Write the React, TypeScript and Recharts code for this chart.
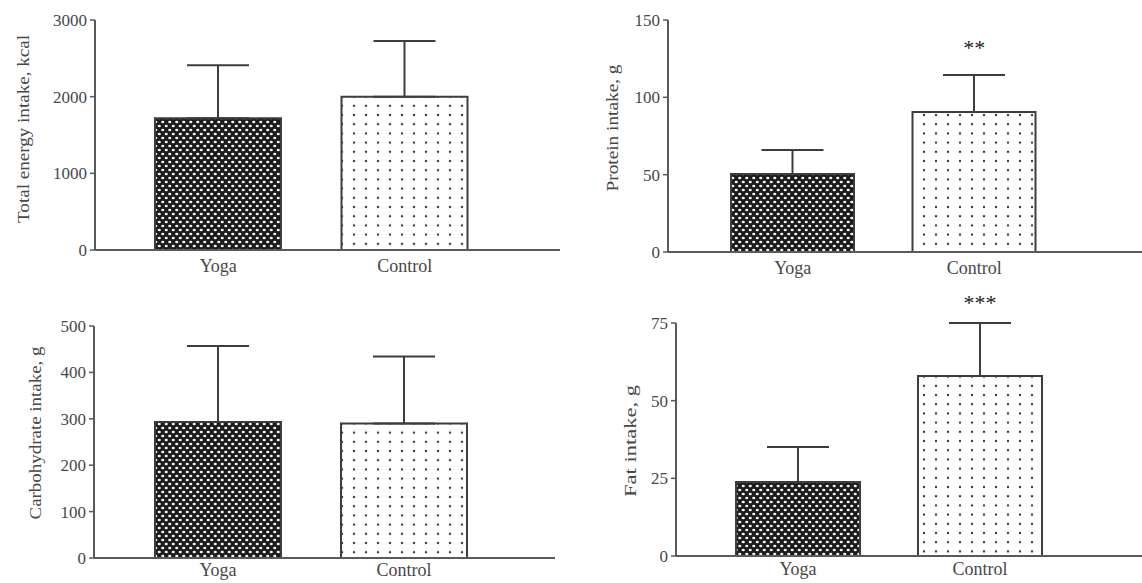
import { BarChart, Bar, XAxis, YAxis, ErrorBar, ReferenceDot, Cell, Label } from "recharts";

// groups on the x axis
const groups = ["Yoga", "Control"];

// means and upper SD
const energyMean = [1720, 2000];
const energySd = [690, 725];
const proteinMean = [50.4, 90.5];
const proteinSd = [15.5, 24];
const carbMean = [293, 290];
const carbSd = [164, 144];
const fatMean = [23.8, 57.9];
const fatSd = [11.3, 17.1];

const energyTicks = [0, 1000, 2000, 3000];
const proteinTicks = [0, 50, 100, 150];
const carbTicks = [0, 100, 200, 300, 400, 500];
const fatTicks = [0, 25, 50, 75];

const INK = "#3d3d3d";
const TEXT = "#474747";
const FONT = "'Liberation Serif', 'Times New Roman', serif";

interface PanelProps {
  id: string;
  mean: number[];
  sd: number[];
  ticks: number[];
  title: string;
  stars?: string;
  box: { left: number; top: number; width: number; height: number };
  margin: { top: number; right: number; left: number; bottom: number };
  yWidth: number;
  xHeight: number;
  xGap: number;
  pad: { left: number; right: number };
  barSize: number;
  label: { x: number; y: number; len: number };
  starOffset?: number;
}

function Panel(p: PanelProps) {
  const data = groups.map((g, i) => ({ group: g, value: p.mean[i], err: [0, p.sd[i]] }));
  const max = p.ticks[p.ticks.length - 1];
  const fills = [`url(#check-${p.id})`, `url(#dots-${p.id})`];

  return (
    <div style={{ position: "absolute", left: p.box.left, top: p.box.top }}>
      <BarChart width={p.box.width} height={p.box.height} data={data} margin={p.margin}>
        <defs>
          <pattern id={`check-${p.id}`} width={7} height={8} patternUnits="userSpaceOnUse">
            <rect width={7} height={8} fill="#1c1c1c" />
            <ellipse cx={1.75} cy={2} rx={1.6} ry={1.3} fill="#f4f4f4" />
            <ellipse cx={5.25} cy={6} rx={1.6} ry={1.3} fill="#f4f4f4" />
          </pattern>
          <pattern id={`dots-${p.id}`} width={12} height={9.2} patternUnits="userSpaceOnUse">
            <rect width={12} height={9.2} fill="#ffffff" />
            <circle cx={6} cy={4.6} r={1.2} fill="#333" />
          </pattern>
        </defs>
        <XAxis
          dataKey="group"
          height={p.xHeight}
          padding={p.pad}
          axisLine={{ stroke: "#5a5a5a", strokeWidth: 2 }}
          tickLine={false}
          tickSize={0}
          tickMargin={p.xGap}
          tick={{ fontSize: 18, fill: TEXT, fontFamily: FONT }}
        />
        <YAxis
          width={p.yWidth}
          domain={[0, max]}
          ticks={p.ticks}
          interval={0}
          axisLine={{ stroke: "#5a5a5a", strokeWidth: 2 }}
          tickLine={{ stroke: "#5a5a5a", strokeWidth: 1.5 }}
          tickSize={5}
          tickMargin={3}
          tick={{ fontSize: 17, fill: TEXT, fontFamily: FONT }}
        >
          <Label
            content={() => (
              <text
                x={p.label.x}
                y={p.label.y}
                transform={`rotate(-90 ${p.label.x} ${p.label.y})`}
                textAnchor="middle"
                dominantBaseline="central"
                textLength={p.label.len}
                lengthAdjust="spacingAndGlyphs"
                fontSize={17}
                fill={TEXT}
                fontFamily={FONT}
              >
                {p.title}
              </text>
            )}
          />
        </YAxis>
        <Bar dataKey="value" barSize={p.barSize} stroke={INK} strokeWidth={2} isAnimationActive={false}>
          {data.map((d, i) => (
            <Cell key={d.group} fill={fills[i]} />
          ))}
          <ErrorBar dataKey="err" direction="y" width={31} stroke={INK} strokeWidth={2} isAnimationActive={false} />
        </Bar>
        {p.stars && (
          <ReferenceDot
            x="Control"
            y={p.mean[1] + p.sd[1]}
            r={0}
            fill="none"
            stroke="none"
            label={{ value: p.stars, position: "top", offset: p.starOffset ?? 20, fontSize: 22, fill: "#222", fontFamily: FONT }}
          />
        )}
      </BarChart>
    </div>
  );
}

export default function App() {
  return (
    <div style={{ position: "absolute", left: 0, top: 0, width: 1142, height: 583, background: "#fff", overflow: "hidden" }}>
      <Panel
        id="energy"
        mean={energyMean}
        sd={energySd}
        ticks={energyTicks}
        title="Total energy intake, kcal"
        box={{ left: 0, top: 0, width: 570, height: 290 }}
        margin={{ top: 20, right: 10, left: 0, bottom: 10 }}
        yWidth={95}
        xHeight={30}
        xGap={9}
        pad={{ left: 30, right: 62 }}
        barSize={126}
        label={{ x: 23, y: 129, len: 188 }}
      />
      <Panel
        id="protein"
        mean={proteinMean}
        sd={proteinSd}
        ticks={proteinTicks}
        title="Protein intake, g"
        stars="**"
        starOffset={20}
        box={{ left: 570, top: 0, width: 572, height: 290 }}
        margin={{ top: 20, right: 0, left: 0, bottom: 8 }}
        yWidth={98}
        xHeight={30}
        xGap={9}
        pad={{ left: 34, right: 77 }}
        barSize={123}
        label={{ x: 42, y: 128, len: 127 }}
      />
      <Panel
        id="carb"
        mean={carbMean}
        sd={carbSd}
        ticks={carbTicks}
        title="Carbohydrate intake, g"
        box={{ left: 0, top: 290, width: 570, height: 293 }}
        margin={{ top: 36, right: 15, left: 0, bottom: 0 }}
        yWidth={94}
        xHeight={25}
        xGap={5}
        pad={{ left: 31, right: 58 }}
        barSize={126}
        label={{ x: 35, y: 143, len: 173 }}
      />
      <Panel
        id="fat"
        mean={fatMean}
        sd={fatSd}
        ticks={fatTicks}
        title="Fat intake, g"
        stars="***"
        starOffset={13}
        box={{ left: 570, top: 280, width: 572, height: 303 }}
        margin={{ top: 43, right: 0, left: 0, bottom: 0 }}
        yWidth={106}
        xHeight={27}
        xGap={6}
        pad={{ left: 31, right: 71 }}
        barSize={124}
        label={{ x: 60, y: 161, len: 112 }}
      />
    </div>
  );
}
